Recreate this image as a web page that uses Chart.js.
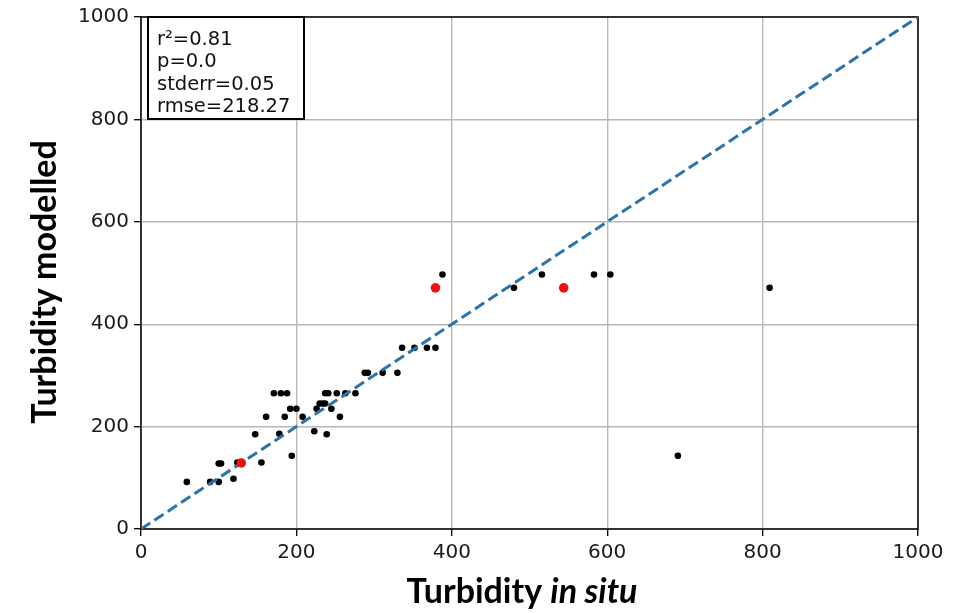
<!DOCTYPE html>
<html>
<head>
<meta charset="utf-8">
<script src="https://cdn.jsdelivr.net/npm/chart.js@4"></script>
<style>
  html, body { margin: 0; padding: 0; background: #fff; }
  #wrap { width: 958px; height: 613px; }
</style>
</head>
<body>
<div id="wrap"><canvas id="c" width="958" height="613"></canvas></div>
<script>
// ---- data ----
const insituBlack = [59, 89, 100, 100, 103, 119, 124, 155, 147, 161, 171, 180, 188, 178, 185, 192, 200, 194, 208, 223,
  226, 230, 234, 237, 237, 241, 239, 245, 252, 256, 263, 276, 288, 292, 311, 330, 336, 352, 368, 379,
  388, 480, 516, 583, 604, 809, 691];
const modelledBlack = [92, 92, 92, 128, 128, 98, 130, 130, 185, 219, 265, 265, 265, 186, 219, 235, 235, 143, 219, 191,
  235, 245, 245, 245, 265, 265, 185, 235, 265, 219, 265, 265, 305, 305, 305, 305, 354, 354, 354, 354,
  497, 471, 497, 497, 497, 471, 143];
const insituRed = [129, 379, 544];
const modelledRed = [129, 471, 471];
const oneToOne = [0, 1000];
const tickValues = [0, 200, 400, 600, 800, 1000];
const statLines = ['r\u00B2=0.81', 'p=0.0', 'stderr=0.05', 'rmse=218.27'];

const toPoints = (xs, ys) => xs.map((x, i) => ({ x: x, y: ys[i] }));

const PLOT_LEFT = 141, PLOT_BOTTOM = 529;
const tickFont = { family: 'DejaVu Sans', size: 20 };
const titleSize = 34;

// frame, stats box and axis titles
const decorations = {
  id: 'decorations',
  beforeDatasetsDraw(chart) {
    const { ctx, chartArea: a } = chart;
    ctx.save();
    ctx.strokeStyle = '#000';
    ctx.lineWidth = 1.5;
    ctx.strokeRect(a.left, a.top, a.right - a.left, a.bottom - a.top);
    ctx.restore();
  },
  afterDraw(chart) {
    const { ctx, chartArea: a } = chart;
    ctx.save();
    // stats box
    ctx.fillStyle = '#fff';
    ctx.fillRect(a.left + 7, a.top, 156, 102);
    ctx.strokeStyle = '#000';
    ctx.lineWidth = 2;
    ctx.strokeRect(a.left + 7, a.top, 156, 102);
    ctx.fillStyle = '#111';
    ctx.font = '19.5px "DejaVu Sans"';
    ctx.textBaseline = 'alphabetic';
    statLines.forEach((t, i) => ctx.fillText(t, a.left + 16, a.top + 28 + i * 22.3));

    // y title
    ctx.fillStyle = '#000';
    ctx.font = 'bold ' + titleSize + 'px Lato';
    ctx.textAlign = 'center';
    ctx.translate(56, 282);
    ctx.rotate(-Math.PI / 2);
    ctx.fillText('Turbidity modelled', 0, 0);
    ctx.setTransform(1, 0, 0, 1, 0, 0);

    // x title, mixed upright / italic
    ctx.textAlign = 'left';
    const partA = 'Turbidity ', partB = 'in situ';
    ctx.font = 'bold ' + titleSize + 'px Lato';
    const wA = ctx.measureText(partA).width;
    ctx.font = 'italic bold ' + titleSize + 'px Lato';
    const wB = ctx.measureText(partB).width;
    const x0 = 522 - (wA + wB) / 2;
    ctx.font = 'bold ' + titleSize + 'px Lato';
    ctx.fillText(partA, x0, 603);
    ctx.font = 'italic bold ' + titleSize + 'px Lato';
    ctx.fillText(partB, x0 + wA, 603);
    ctx.restore();
  }
};

const plainTick = (v) => String(v);

new Chart(document.getElementById('c'), {
  type: 'scatter',
  data: {
    datasets: [
      {
        label: 'points',
        data: toPoints(insituBlack, modelledBlack),
        backgroundColor: '#000',
        borderWidth: 0,
        pointRadius: 3.3,
        order: 3
      },
      {
        label: '1:1',
        type: 'line',
        data: toPoints(oneToOne, oneToOne),
        borderColor: '#2a74ac',
        borderWidth: 3,
        borderDash: [11, 5],
        pointRadius: 0,
        fill: false,
        order: 2
      },
      {
        label: 'highlight',
        data: toPoints(insituRed, modelledRed),
        backgroundColor: '#f01010',
        borderWidth: 0,
        pointRadius: 4.8,
        order: 1
      }
    ]
  },
  options: {
    responsive: false,
    animation: false,
    layout: { padding: { left: 0, right: 40, top: 15, bottom: 0 } },
    plugins: {
      legend: { display: false },
      tooltip: { enabled: false }
    },
    scales: {
      x: {
        type: 'linear',
        min: 0,
        max: 1000,
        afterBuildTicks: (s) => { s.ticks = tickValues.map(v => ({ value: v })); },
        afterFit: (s) => { s.height = 613 - PLOT_BOTTOM; },
        ticks: { font: tickFont, color: '#1a1a1a', padding: 5, maxRotation: 0, callback: plainTick },
        grid: { color: '#b8b8b8', lineWidth: 1.4, tickColor: '#000', tickLength: 7, tickWidth: 1.3 },
        border: { display: false }
      },
      y: {
        type: 'linear',
        min: 0,
        max: 1000,
        afterBuildTicks: (s) => { s.ticks = tickValues.map(v => ({ value: v })); },
        afterFit: (s) => { s.width = PLOT_LEFT; },
        ticks: { font: tickFont, color: '#1a1a1a', padding: 5, callback: plainTick },
        grid: { color: '#b8b8b8', lineWidth: 1.4, tickColor: '#000', tickLength: 7, tickWidth: 1.3 },
        border: { display: false }
      }
    }
  },
  plugins: [decorations]
});
</script>
</body>
</html>
